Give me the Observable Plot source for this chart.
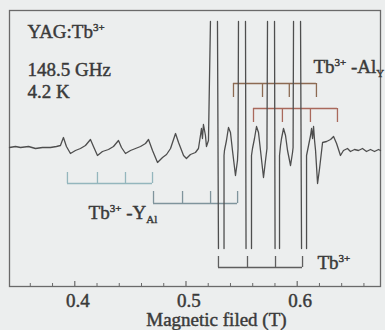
<!DOCTYPE html>
<html><head><meta charset="utf-8">
<script src="https://cdn.jsdelivr.net/npm/d3@7"></script>
<script src="https://cdn.jsdelivr.net/npm/@observablehq/plot@0.6"></script>
<style>body{margin:0;background:#eceeee;} #chart svg{display:block}</style>
</head><body><div id="chart"></div>
<script>
// Spectrum trace: magnetic field (T) and EPR signal (arbitrary units, baseline 0).
// null = pen off-scale (gap in the recorded trace)
const field = [
  0.3413,0.3467,0.3512,0.3584,0.3647,0.3710,0.3781,0.3835,0.3871,0.3898,0.3925,0.3961,0.4006,0.4051,0.4096,
  0.4141,0.4168,0.4204,0.4249,0.4303,0.4348,0.4393,0.4420,0.4456,0.4501,0.4546,0.4591,0.4636,0.4663,0.4699,
  0.4744,0.4789,0.4825,0.4861,0.4906,0.4933,0.4978,0.5004,0.5040,0.5085,0.5112,0.5130,0.5139,0.5148,0.5157,
  0.5175,0.5184,0.5202,
  0.5220,0.5220,0.5283,0.5292,0.5292,0.5342,0.5342,
  0.5346,0.5364,0.5382,0.5400,0.5418,0.5445,0.5463,0.5468,
  0.5472,0.5472,0.5535,0.5540,0.5540,0.5589,0.5589,
  0.5598,0.5616,0.5634,0.5652,0.5670,0.5697,0.5715,0.5728,
  0.5733,0.5733,0.5796,0.5801,0.5801,0.5841,0.5841,
  0.5850,0.5859,0.5877,0.5895,0.5913,0.5940,0.5958,0.5963,
  0.5967,0.5967,0.6030,0.6039,0.6039,0.6084,0.6084,
  0.6102,0.6120,0.6129,0.6138,0.6147,0.6156,0.6165,0.6183,0.6201,0.6228,0.6264,0.6300,0.6327,0.6354,0.6389,
  0.6416,0.6452,0.6479,0.6515,0.6551,0.6587,0.6623,0.6659,0.6695,0.6731,0.6749
];
const signal = [
  0,1,0,1,-1,0,0,1,2,10,1,-6,-3,-1,2,
  8,1,-8,-4,-2,1,7,0,-6,-3,-1,1,4,8,-3,
  -15,-10,-7,-1,14,5,-8,-11,-7,-5,-1,12,19,9,23,
  12,1,7,
  126,null,126,-101,null,-101,-8,
  -3,7,20,15,-3,-28,-13,-1,
  126,null,126,-101,null,-101,-8,
  -1,9,21,15,-3,-30,-13,-1,
  126,null,126,-101,null,-101,-8,
  2,9,19,12,-3,-18,-5,0,
  126,null,126,-101,null,-101,-8,
  2,12,19,9,21,7,-3,-36,-21,5,6,8,11,4,-8,
  -3,-1,-4,-2,-3,-1,-4,-2,-4,-2,-3
];

// Stick diagrams (line positions, T)
const yAlSticks1 = [0.3934, 0.4204, 0.4456, 0.4699];
const yAlSticks2 = [0.4708, 0.4969, 0.5221, 0.5464];
const tbSticks   = [0.5292, 0.5553, 0.5805, 0.6048];
const alYSticks1 = [0.5427, 0.5688, 0.5929, 0.6173];
const alYSticks2 = [0.5607, 0.5867, 0.6119, 0.6362];

// Axis ticks
const majorTicks = [0.4, 0.5, 0.6];
const minorTicks = [0.36,0.38,0.42,0.44,0.46,0.48,0.52,0.54,0.56,0.58,0.62,0.64,0.66];

// Texts
const titleText = "YAG:Tb^{3+}";
const condText1 = "148.5 GHz";
const condText2 = "4.2 K";
const alYText = "Tb^{3+} -Al_{Y}";
const yAlText = "Tb^{3+} -Y_{Al}";
const tbText = "Tb^{3+}";
const xLabel = "Magnetic filed (T)";

const trace = field.map((f, i) => ({field: f, signal: signal[i]}));
const yMin = -139, yMax = 137;

function bracket(sticks, base, tip, color) {
  return [
    Plot.ruleY([base], {x1: d3.min(sticks), x2: d3.max(sticks), stroke: color, strokeWidth: 1.3}),
    Plot.ruleX(sticks, {x: d => d, y1: base, y2: tip, stroke: color, strokeWidth: 1.3})
  ];
}

const ink = "#3a3a3a";
const txt = {fill: ink, stroke: ink, strokeWidth: 0.45, fontSize: 19, fontFamily: "'Liberation Serif', serif", lineAnchor: "bottom", textAnchor: "start", className: "rich"};

const plot = Plot.plot({
  width: 385, height: 330,
  marginLeft: 9, marginRight: 5, marginTop: 10, marginBottom: 44,
  x: {domain: [0.3413, 0.6749], axis: null},
  y: {domain: [yMin, yMax], axis: null},
  style: {background: "transparent", fontFamily: "'Liberation Serif', serif", color: ink},
  marks: [
    Plot.frame({stroke: "#6a6a6a", strokeWidth: 1.3}),
    Plot.ruleX(minorTicks, {x: d => d, y1: yMin, y2: yMin + 3, stroke: "#6a6a6a", strokeWidth: 1}),
    Plot.ruleX(majorTicks, {x: d => d, y1: yMin, y2: yMin + 5, stroke: "#6a6a6a", strokeWidth: 1.2}),
    ...bracket(yAlSticks1, -36, -25, "#94b6bd"),
    ...bracket(yAlSticks2, -56, -44, "#7f949c"),
    ...bracket(tbSticks, -120, -109, "#5e5e5e"),
    ...bracket(alYSticks1, 64, 50, "#8c6a52"),
    ...bracket(alYSticks2, 39, 25, "#a9695c"),
    Plot.line(trace, {x: "field", y: "signal", stroke: "#4e4e4e", strokeWidth: 1.3, curve: "linear"}),
    Plot.text([titleText], {x: 0.3575, y: 110, text: d => d, ...txt}),
    Plot.text([condText1], {x: 0.3575, y: 72, text: d => d, ...txt}),
    Plot.text([condText2], {x: 0.3575, y: 50, text: d => d, ...txt}),
    Plot.text([alYText], {x: 0.6146, y: 75, text: d => d, ...txt}),
    Plot.text([yAlText], {x: 0.4124, y: -71, text: d => d, ...txt}),
    Plot.text([tbText], {x: 0.6182, y: -121, text: d => d, ...txt}),
    Plot.text(majorTicks, {x: d => d, y: yMin, dy: 20, dx: 3, text: d => d.toFixed(1), ...txt, textAnchor: "middle", className: "ticklab"}),
    Plot.text([xLabel], {x: 0.5274, y: yMin, dy: 39, text: d => d, ...txt, textAnchor: "middle", className: "xlab"})
  ]
});

// rich text: superscripts ^{..} and subscripts _{..}
d3.select(plot).selectAll("g.rich text").each(function() {
  const s = this.textContent;
  const parts = s.split(/(\^\{[^}]*\}|_\{[^}]*\})/).filter(p => p.length);
  const el = d3.select(this);
  el.text(null);
  for (const p of parts) {
    if (p.startsWith("^{")) {
      el.append("tspan").attr("font-size", 11).attr("baseline-shift", "7px").text(p.slice(2, -1));
    } else if (p.startsWith("_{")) {
      el.append("tspan").attr("font-size", 11).attr("baseline-shift", "-4px").text(p.slice(2, -1));
    } else {
      el.append("tspan").text(p);
    }
  }
});

document.getElementById("chart").appendChild(plot);
</script>
</body></html>
